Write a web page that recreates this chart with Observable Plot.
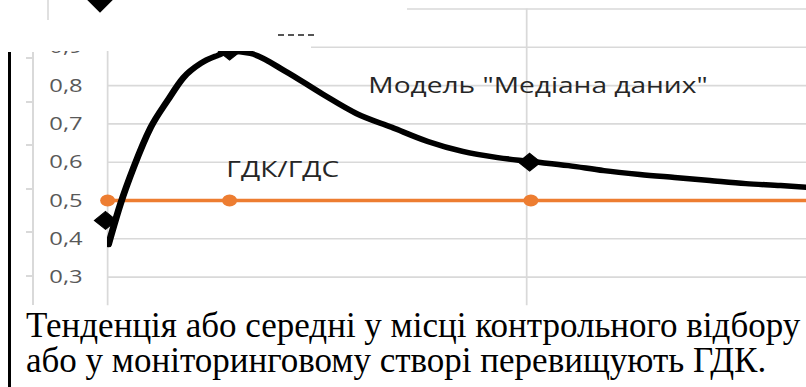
<!DOCTYPE html>
<html>
<head>
<meta charset="utf-8">
<script src="https://cdn.jsdelivr.net/npm/d3@7"></script>
<script src="https://cdn.jsdelivr.net/npm/@observablehq/plot@0.6"></script>
<style>
  html, body { margin: 0; padding: 0; background: #fff; }
  body { width: 806px; height: 387px; overflow: hidden; position: relative; }
  #chart { position: absolute; left: 0; top: 0; width: 806px; height: 306px; }
  .mask { position: absolute; background: #fff; }
  #border { position: absolute; left: 8px; top: 52px; width: 3px; height: 335px; background: #000; }
  #oldaxis { position: absolute; left: 26px; top: 52px; width: 6px; height: 253px;
    border-right: 2px solid #d9d9d9;
    background: repeating-linear-gradient(to bottom, transparent 0, transparent 5px, #d9d9d9 5px, #d9d9d9 7px, transparent 7px, transparent 43.6px); }
  #topline { position: absolute; left: 47px; top: 0; width: 2px; height: 20px; background: #e0e0e0; }
  #topdiamond { position: absolute; left: 91px; top: -9px; width: 18px; height: 18px; background: #000; transform: rotate(45deg); }
  #dashes { position: absolute; left: 278px; top: 34px; width: 36px; border-top: 2px dashed #555; }
  #caption { position: absolute; left: 26px; top: 308px; font-family: "Liberation Serif", "Times New Roman", serif;
    font-size: 35px; line-height: 35px; color: #000; white-space: nowrap; }
</style>
</head>
<body>
<div id="chart"></div>
<div class="mask" style="left:0;top:0;width:407px;height:42px;"></div>
<div class="mask" style="left:0;top:0;width:311px;height:51px;"></div>
<div id="topline"></div>
<div id="topdiamond"></div>
<div id="dashes"></div>
<div id="oldaxis"></div>
<div id="border"></div>
<div id="caption"></div>
<script>
// ---- data ----
const modelX = [0.2, 3.1, 6.2, 10.3, 14.3, 18.1, 22.2, 26.3, 29.1, 34.1, 42.5, 51.1, 59.4, 67.8, 76.4, 84.7, 93.1, 100, 110, 118.4, 127, 135.3, 143.7, 152.3, 160.6, 170];
const modelY = [0.385, 0.492, 0.586, 0.691, 0.761, 0.821, 0.858, 0.879, 0.890, 0.884, 0.837, 0.779, 0.727, 0.691, 0.654, 0.628, 0.612, 0.603, 0.591, 0.578, 0.568, 0.560, 0.552, 0.544, 0.539, 0.532];
const obsX = [-0.5, 29.1, 100.7];
const obsY = [0.448, 0.890, 0.600];
const limitX = [0, 29.1, 101, 200];
const limitY = [0.5, 0.5, 0.5, 0.5];
const gridYTicks = [0.3, 0.4, 0.5, 0.6, 0.7, 0.8, 0.9, 1.0];
const yLabelTicks = [0.3, 0.4, 0.5, 0.6, 0.7, 0.8, 0.9];
const gridXTicks = [0, 100, 200];
const noteText = ["Модель \"Медіана даних\"", "ГДК/ГДС"];
const noteX = [102.7, 41.8];
const noteY = [0.80, 0.58];
const captionLines = ["Тенденція або середні у місці контрольного відбору", "або у моніторинговому створі перевищують ГДК."];

// ---- build ----
const S = 1.25;              // horizontal stretch of the embedded chart
const W = 806 / S, H = 306;
const model = modelX.map((x, i) => ({x, y: modelY[i]}));
const obs = obsX.map((x, i) => ({x, y: obsY[i]}));
const limit = limitX.map((x, i) => ({x, y: limitY[i]}));
const notes = noteText.map((t, i) => ({t, x: noteX[i], y: noteY[i]}));
const fmt = d => d.toFixed(1).replace(".", ",");

const svg = Plot.plot({
  width: W, height: H,
  marginLeft: 107 / S, marginRight: 0, marginTop: 8.5, marginBottom: 0.7,
  style: {fontFamily: "'Open Sans', sans-serif", background: "transparent"},
  x: {domain: [0, 166.8], axis: null},
  y: {domain: [0.225, 1.0], axis: null},
  marks: [
    Plot.gridY(gridYTicks, {stroke: "#d9d9d9", strokeOpacity: 1, strokeWidth: 1.6}),
    Plot.gridX(gridXTicks, {stroke: "#d9d9d9", strokeOpacity: 1, strokeWidth: 1.4}),
    Plot.axisY(yLabelTicks, {anchor: "left", tickSize: 0, tickPadding: 20, tickFormat: fmt, fontSize: 19, fill: "#595959"}),
    Plot.line(limit, {x: "x", y: "y", stroke: "#ED7D31", strokeWidth: 3.5, clip: true}),
    Plot.dot(limit, {x: "x", y: "y", r: 6, fill: "#ED7D31", stroke: "none"}),
    Plot.line(model, {x: "x", y: "y", curve: "monotone-x", stroke: "#000", strokeWidth: 5.5, strokeLinecap: "round", clip: true}),
    Plot.dot(obs, {x: "x", y: "y", symbol: "diamond2", r: 8, fill: "#000", stroke: "#000", strokeWidth: 1}),
    Plot.text(notes, {x: "x", y: "y", text: "t", fontSize: 22.5, fill: "#262626", textAnchor: "middle"})
  ]
});
svg.setAttribute("width", 806);
svg.setAttribute("height", H);
svg.setAttribute("viewBox", `0 0 ${W} ${H}`);
svg.setAttribute("preserveAspectRatio", "none");
svg.style.maxWidth = "none";
svg.style.width = "806px";
svg.style.height = H + "px";
svg.style.overflow = "hidden";
document.getElementById("chart").appendChild(svg);

const cap = document.getElementById("caption");
captionLines.forEach(l => { const d = document.createElement("div"); d.textContent = l; cap.appendChild(d); });
</script>
</body>
</html>
